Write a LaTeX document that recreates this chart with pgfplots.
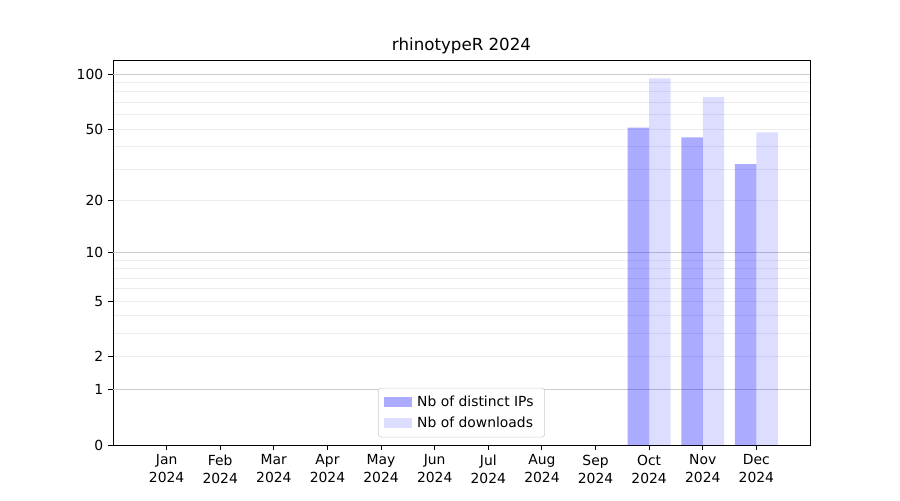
\documentclass[border=0pt]{standalone}
\usepackage{pgfplots}
\pgfplotsset{compat=1.18}
\usepackage{fontspec}
\setmainfont{DejaVu Sans}
\pgfplotstableread{
x ips dl
0 0 0
1 0 0
2 0 0
3 0 0
4 0 0
5 0 0
6 0 0
7 0 0
8 0 0
9 51 95
10 45 75
11 32 48
}\data
\begin{document}
\begin{tikzpicture}
\useasboundingbox (-81.36pt,-39.6pt) rectangle (566.64pt,320.4pt);
\begin{axis}[
  at={(0,0)}, anchor=south west,
  scale only axis, width=501.84pt, height=277.2pt,
  xmin=-1, xmax=12, ymin=0, ymax=119.5,
  y coord trafo/.code={\pgfmathparse{log10(1+#1)}},
  y coord inv trafo/.code={\pgfmathparse{10^(#1)-1}},
  ytick={0,1,2,5,10,20,50,100},
  yticklabels={0,1,2,5,10,20,50,100},
  minor ytick={3,4,6,7,8,9,30,40,60,70,80,90,2,5,20,50},
  ymajorgrids=false, yminorgrids=true,
  minor grid style={draw=black!7, line width=0.6pt},
  minor tick length=0pt,
  extra y ticks={1,10,100}, extra y tick labels={},
  extra y tick style={grid=major, major grid style={draw=black!20, line width=0.8pt}},
  xtick={0,...,11},
  xticklabels={Jan\\2024,Feb\\2024,Mar\\2024,Apr\\2024,May\\2024,Jun\\2024,Jul\\2024,Aug\\2024,Sep\\2024,Oct\\2024,Nov\\2024,Dec\\2024},
  x tick label style={align=center, font=\fontsize{10}{13}\selectfont},
  y tick label style={font=\fontsize{10}{12}\selectfont},
  /pgf/number format/assume math mode=true,
  tick align=outside, major tick length=3.5pt,
  tick style={black, line width=0.7pt},
  xtick pos=bottom, ytick pos=left,
  axis line style={line width=0.7pt},
  title={rhinotypeR 2024},
  title style={font=\fontsize{12}{14}\selectfont, yshift=-5pt},
  legend style={at={(0.5,0.02)}, anchor=south, draw=black!20, rounded corners=2pt,
    font=\fontsize{10}{12}\selectfont, row sep=2pt, inner xsep=4pt, inner ysep=3.5pt,
    nodes={inner xsep=4pt}},
  legend cell align=left,
  legend image code/.code={\fill[#1, sharp corners] (0pt,-3.5pt) rectangle (20pt,3.5pt);},
  legend image post style={xshift=-3pt},
]
\addplot[ybar, bar width=0.4, bar shift=-0.2, fill=blue, fill opacity=0.33, draw=none] table[x=x,y=ips] {\data};
\addlegendentry{Nb of distinct IPs}
\addplot[ybar, bar width=0.4, bar shift=0.2, fill=blue, fill opacity=0.135, draw=none] table[x=x,y=dl] {\data};
\addlegendentry{Nb of downloads}
\end{axis}
\end{tikzpicture}
\end{document}
